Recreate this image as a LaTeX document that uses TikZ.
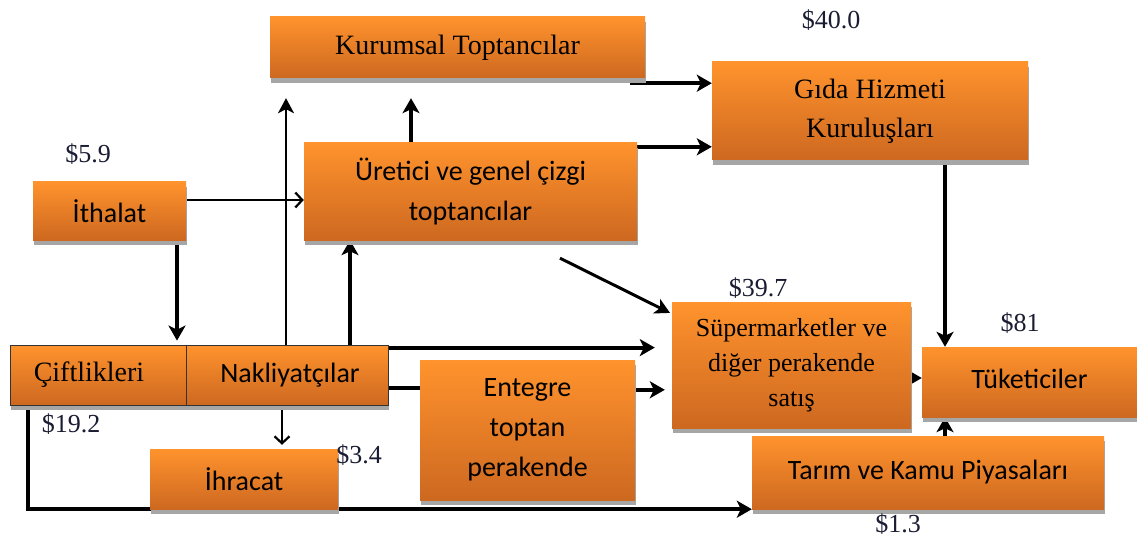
\documentclass[tikz,border=0pt]{standalone}
\usepackage{fontspec}
\setmainfont{Liberation Serif}
\newfontfamily\calibri{Carlito}
\usetikzlibrary{shadows,backgrounds}
\usepgflibrary{arrows.meta}
\definecolor{boxtop}{RGB}{255,147,45}
\definecolor{boxbot}{RGB}{205,104,32}
\definecolor{pricecol}{RGB}{25,28,50}

\begin{document}
\begin{tikzpicture}[x=1pt,y=-1pt,
	box/.style={rectangle,top color=boxtop,bottom color=boxbot,inner sep=0pt,align=center,
		drop shadow={shadow xshift=1pt,shadow yshift=-5pt,fill=black!35,opacity=1}},
	sans/.style={font=\calibri\fontsize{28}{40}\selectfont},
	serif/.style={font=\fontsize{28}{39}\selectfont},
	price/.style={font=\fontsize{26}{28}\selectfont,text=pricecol,inner sep=0pt},
	thk/.style={line width=4pt,-{Stealth[length=15pt,width=17pt,inset=4pt]}},
	thn/.style={line width=2.2pt,-{Stealth[length=15pt,width=16pt,inset=4pt]}},
	barb/.style={line width=2.2pt,-{Straight Barb[length=7pt,width=15pt]}}]
	\useasboundingbox (0,0) rectangle (1137,540);
	% kutular
	\node[box,serif,minimum width=375pt,minimum height=61pt] (kurumsal) at (457.5,47.5) {Kurumsal Toptancılar};
	\node[box,serif,minimum width=316pt,minimum height=98pt] (gida) at (870,111) {Gıda Hizmeti\\Kuruluşları};
	\node[box,sans,minimum width=153pt,minimum height=58pt] (ithalat) at (109.5,211) {İthalat};
	\node[box,sans,minimum width=333pt,minimum height=97pt] (uretici) at (470.5,191.5) {Üretici ve genel çizgi\\toptancılar};
	\node[box,serif,draw=black!80,line width=0.8pt,minimum width=176pt,minimum height=60pt] (ciftlik) at (98,375) {Çiftlikleri\hspace*{18pt}};
	\node[box,sans,draw=black!80,line width=0.8pt,minimum width=202pt,minimum height=60pt] (nakliyat) at (287,375) {\hspace*{6pt}Nakliyatçılar};
	\node[box,sans,minimum width=188pt,minimum height=60pt] (ihracat) at (244,479) {İhracat};
	\node[box,sans,minimum width=215pt,minimum height=140pt] (entegre) at (527.5,430) {Entegre\\toptan\\perakende};
	\node[box,font=\fontsize{26}{35}\selectfont,minimum width=239pt,minimum height=126pt] (super) at (791.5,365) {Süpermarketler ve\\diğer perakende\\satış};
	\node[box,sans,minimum width=215pt,minimum height=70pt] (tuketici) at (1029.5,382) {\raisebox{6pt}{Tüketiciler}};
	\node[box,sans,minimum width=352pt,minimum height=73pt] (tarim) at (928,472.5) {Tarım ve Kamu Piyasaları};
	% tutarlar
	\node[price] (p40) at (831,20) {\$40.0};
	\node[price] (p59) at (88,154) {\$5.9};
	\node[price] (p192) at (71,424) {\$19.2};
	\node[price] (p34) at (359,455) {\$3.4};
	\node[price] (p397) at (758,288) {\$39.7};
	\node[price] (p81) at (1020,323) {\$81};
	\node[price] (p13) at (898,524) {\$1.3};
	% oklar
	\begin{pgfonlayer}{background}
		\coordinate (kg) at ([xshift=-15pt,yshift=-5pt]kurumsal.south east);
		\coordinate (ug) at ([yshift=-4pt]uretici.north east);
		\coordinate (uk) at ([xshift=-59.5pt]uretici.north);
		\coordinate (ukend) at ([xshift=-46.5pt,yshift=-20pt]kurumsal.south);
		\coordinate (ie) at ([yshift=11pt]ithalat.east);
		\coordinate (nk) at ([xshift=-1pt]nakliyat.north);
		\coordinate (nu) at ([xshift=63pt]nakliyat.north);
		\coordinate (ic) at ([xshift=67.5pt]ithalat.south);
		\coordinate (ud) at ([xshift=89.5pt,yshift=-18pt]uretici.south);
		\coordinate (ns) at ([yshift=-3pt]nakliyat.north east);
		\coordinate (ne) at ([yshift=17pt]nakliyat.south east);
		\coordinate (es) at ([yshift=-30pt]entegre.north east);
		\coordinate (ni) at ([xshift=-5pt]nakliyat.south);
		\coordinate (cb) at ([xshift=-70pt]ciftlik.south);
		\coordinate (gt) at ([xshift=75pt]gida.south);
		\coordinate (st) at ([yshift=-13pt]super.east);
		\draw[thk] (kg) -- (kg -| gida.west);
		\draw[thk] (ug) -- (ug -| gida.west);
		\draw[thk] (uk) -- (ukend);
		\draw[barb] (ie) -- (ie -| uretici.west);
		\draw[thn] (nk) -- (nk |- ukend);
		\draw[thk] (nu) -- (nu |- uretici.south);
		\draw[thk,shorten >=4pt] (ic) -- (ic |- nakliyat.north);
		\draw[line width=3pt,-{Stealth[length=15pt,width=16pt,inset=4pt]},shorten >=2pt] (ud) -- ([yshift=-12pt]super.north west);
		\draw[thk,shorten >=17pt] (ns) -- (ns -| super.west);
		\draw[line width=4pt] (ne) -- (ne -| entegre.west);
		\draw[thk,shorten >=7pt] (es) -- (es -| super.west);
		\draw[barb,shorten >=4pt] (ni) -- (ni |- ihracat.north);
		\draw[thk] (cb) -- (cb |- tarim.south west) -- (tarim.south west);
		\draw[thk] (gt) -- (gt |- tuketici.north);
		\draw[thk] (st) -- (st -| tuketici.west);
		\draw[thk] (gt |- tarim.north) -- (gt |- tuketici.south);
	\end{pgfonlayer}
\end{tikzpicture}
\end{document}
